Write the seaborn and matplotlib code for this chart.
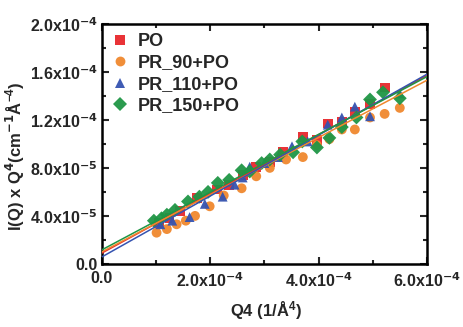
import numpy as np
import pandas as pd
import matplotlib
matplotlib.use("Agg")
import matplotlib.pyplot as plt
from matplotlib.ticker import MultipleLocator, FixedLocator
import seaborn as sns

sns.set_style("ticks")
plt.rcParams['font.family'] = ['Liberation Sans', 'DejaVu Sans']
plt.rcParams['font.weight'] = 'bold'
plt.rcParams['mathtext.default'] = 'bf'

series_names = ["PO", "PR_90+PO", "PR_110+PO", "PR_150+PO"]
series_colors = ["#e8282c", "#f0882e", "#3553b0", "#1f9645"]
series_markers = ["s", "o", "^", "D"]

# values (x in 1/Å^4, y in cm^-1 Å^-4)
po_x = [1.05e-4, 1.25e-4, 1.45e-4, 1.75e-4, 2.12e-4, 2.35e-4, 2.60e-4, 2.85e-4, 3.10e-4,
        3.35e-4, 3.71e-4, 3.97e-4, 4.17e-4, 4.43e-4, 4.67e-4, 4.95e-4, 5.22e-4]
po_y = [3.4e-5, 3.8e-5, 4.4e-5, 5.5e-5, 6.2e-5, 6.6e-5, 7.4e-5, 8.1e-5, 8.5e-5,
        9.3e-5, 1.06e-4, 1.03e-4, 1.17e-4, 1.18e-4, 1.27e-4, 1.33e-4, 1.47e-4]

pr90_x = [1.01e-4, 1.20e-4, 1.38e-4, 1.55e-4, 1.72e-4, 1.99e-4, 2.25e-4, 2.58e-4, 2.85e-4,
          3.10e-4, 3.40e-4, 3.71e-4, 3.97e-4, 4.20e-4, 4.43e-4, 4.67e-4, 4.95e-4, 5.22e-4, 5.50e-4]
pr90_y = [2.6e-5, 2.9e-5, 3.3e-5, 3.6e-5, 4.0e-5, 4.8e-5, 5.7e-5, 6.3e-5, 7.3e-5,
          8.0e-5, 8.7e-5, 8.9e-5, 9.9e-5, 1.04e-4, 1.12e-4, 1.12e-4, 1.22e-4, 1.25e-4, 1.30e-4]

pr110_x = [1.08e-4, 1.30e-4, 1.62e-4, 1.90e-4, 2.23e-4, 2.45e-4, 2.60e-4, 2.73e-4, 3.00e-4,
           3.25e-4, 3.51e-4, 3.80e-4, 4.17e-4, 4.43e-4, 4.67e-4, 4.95e-4, 5.50e-4]
pr110_y = [3.3e-5, 3.6e-5, 3.9e-5, 5.0e-5, 5.6e-5, 6.6e-5, 7.2e-5, 8.1e-5, 8.4e-5,
           8.9e-5, 9.8e-5, 1.02e-4, 1.16e-4, 1.22e-4, 1.31e-4, 1.23e-4, 1.42e-4]

pr150_x = [0.96e-4, 1.10e-4, 1.20e-4, 1.35e-4, 1.59e-4, 1.80e-4, 1.96e-4, 2.14e-4, 2.35e-4,
           2.58e-4, 2.73e-4, 2.95e-4, 3.10e-4, 3.29e-4, 3.53e-4, 3.70e-4, 3.97e-4, 4.20e-4,
           4.43e-4, 4.70e-4, 4.95e-4, 5.19e-4, 5.50e-4]
pr150_y = [3.6e-5, 3.8e-5, 4.1e-5, 4.5e-5, 5.2e-5, 5.6e-5, 6.0e-5, 6.75e-5, 7.0e-5,
           7.8e-5, 7.7e-5, 8.4e-5, 8.7e-5, 9.1e-5, 9.3e-5, 1.02e-4, 9.7e-5, 1.05e-4,
           1.14e-4, 1.22e-4, 1.37e-4, 1.43e-4, 1.38e-4]

# linear fits (intercept, slope)
fit_intercepts = [9.0e-6, 1.0e-5, 5.8e-6, 1.17e-5]
fit_slopes = [0.2467, 0.2383, 0.2537, 0.2405]
fit_range = [0.0, 6.0e-4]

xs = [po_x, pr90_x, pr110_x, pr150_x]
ys = [po_y, pr90_y, pr110_y, pr150_y]

df = pd.concat([pd.DataFrame({"x": x, "y": y, "sample": n})
                for x, y, n in zip(xs, ys, series_names)], ignore_index=True)

fig = plt.figure(figsize=(4.63, 3.27), dpi=100)
ax = fig.add_axes([0.220, 0.193, 0.702, 0.734])

sns.scatterplot(data=df, x="x", y="y", hue="sample", style="sample",
                hue_order=series_names, style_order=series_names,
                palette=dict(zip(series_names, series_colors)),
                markers=dict(zip(series_names, series_markers)),
                s=50, linewidth=0, alpha=0.95, ax=ax, zorder=3)

fx = np.array(fit_range)
for b, k, c in zip(fit_intercepts, fit_slopes, series_colors):
    ax.plot(fx, b + k * fx, color=c, lw=1.1, zorder=4)

ax.set_xlim(0, 6.0e-4)
ax.set_ylim(0, 2.0e-4)

xt = [0.0, 2.0e-4, 4.0e-4, 6.0e-4]
xl = ["0.0", r"2.0x10$^{-4}$", r"4.0x10$^{-4}$", r"6.0x10$^{-4}$"]
yt = [0.0, 4.0e-5, 8.0e-5, 1.2e-4, 1.6e-4, 2.0e-4]
yl = ["0.0", r"4.0x10$^{-5}$", r"8.0x10$^{-5}$", r"1.2x10$^{-4}$", r"1.6x10$^{-4}$", r"2.0x10$^{-4}$"]
ax.xaxis.set_major_locator(FixedLocator(xt))
ax.yaxis.set_major_locator(FixedLocator(yt))
ax.set_xticklabels(xl, fontsize=11.5, fontweight='bold')
ax.set_yticklabels(yl, fontsize=11.5, fontweight='bold')
ax.xaxis.set_minor_locator(MultipleLocator(1.0e-4))
ax.yaxis.set_minor_locator(MultipleLocator(2.0e-5))
ax.tick_params(which='both', direction='in', top=True, right=True, width=1.5)
ax.tick_params(which='major', length=5)
ax.tick_params(which='minor', length=3)
ax.tick_params(axis='x', which='major', pad=5)
ax.tick_params(axis='y', which='major', pad=3)
for sp in ax.spines.values():
    sp.set_linewidth(1.8)
    sp.set_color('black')

ax.set_xlabel(r"Q4 (1/$\mathregular{\AA^{4}}$)", fontsize=12, fontweight='bold')
ax.set_ylabel(r"I(Q) x Q$^{4}$(cm$^{-1}$$\mathregular{\AA^{-4}}$)", fontsize=12,
              fontweight='bold')
ax.xaxis.set_label_coords(0.505, -0.15)
ax.yaxis.set_label_coords(-0.23, 0.45)

leg = ax.legend(loc='upper left', frameon=False, fontsize=13, handletextpad=0.5,
                borderaxespad=0.3, labelspacing=0.25, markerscale=1.0, handlelength=1.0,
                borderpad=0.2)
for t in leg.get_texts():
    t.set_fontweight('bold')

fig.savefig("out.png", dpi=100)
